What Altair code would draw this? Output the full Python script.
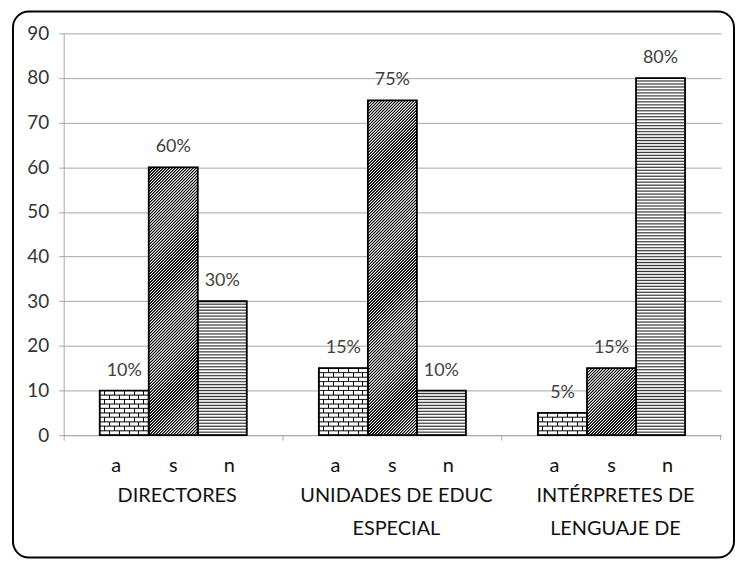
import math
import altair as alt
import pandas as pd

# ---- data ----
groups = ["DIRECTORES", "UNIDADES DE EDUC ESPECIAL", "INTÉRPRETES DE LENGUAJE DE"]
group_text = ["DIRECTORES", "UNIDADES DE EDUC\nESPECIAL", "INTÉRPRETES DE\nLENGUAJE DE"]
series = ["a", "s", "n"]
a_values = [10, 15, 5]
s_values = [60, 75, 15]
n_values = [30, 10, 80]
y_ticks = [0, 10, 20, 30, 40, 50, 60, 70, 80, 90]

rows = []
for i, g in enumerate(groups):
    for s, vals in zip(series, [a_values, s_values, n_values]):
        rows.append({"group": g, "series": s, "value": vals[i]})
df = pd.DataFrame(rows)
df_g = pd.DataFrame({"group": groups, "text": group_text})

# ---- geometry / style ----
W, H = 661, 404
YMAX = 90
PX = H / YMAX
OUTER = 0.735
BAR_W = W / 3 / (3 + 2 * OUTER)
FONT = "Lato"
GRAY = "#a6a6a6"
EPS = 0.1          # overlap of pattern segments (in value units)
P = 2 * PX / 3     # stripe period in px

# pattern segments derived from the values (texture only)
seg_rows = []
for r in rows:
    v = r["value"]
    if r["series"] == "a":
        for k in range(v):
            seg_rows.append({**r, "lo": k, "hi": k + 1, "kind": "odd" if k % 2 else "even"})
    else:
        for k in range(0, v, 2):
            hi = min(k + 2, v)
            seg_rows.append({**r, "lo": k, "hi": hi, "kind": "full" if hi - k == 2 else "half"})
df_seg = pd.DataFrame(seg_rows)


def mix(d, dark, light):
    c = [round(l + d * (k - l)) for k, l in zip(dark, light)]
    return "#%02x%02x%02x" % tuple(c)


def wave_gradient(L, ref, shape, dark, light, coords):
    def f(u):
        ph = ((u - ref) % P) / P
        for (p0, d0), (p1, d1) in zip(shape[:-1], shape[1:]):
            if p0 <= ph <= p1:
                return d0 if p1 == p0 else d0 + (d1 - d0) * (ph - p0) / (p1 - p0)
        return shape[-1][1]
    pos = {0.0, L}
    k = math.floor((0 - ref) / P) - 1
    while ref + k * P < L + P:
        for p, _ in shape:
            u = ref + (k + p) * P
            if 0 < u < L:
                pos.add(u)
        k += 1
    stops = [{"offset": u / L, "color": mix(f(u), dark, light)} for u in sorted(pos)]
    x1, y1, x2, y2 = coords
    return {"gradient": "linear", "x1": x1, "y1": y1, "x2": x2, "y2": y2, "stops": stops}


S_SHAPE = [(0.0, 1.0), (0.3, 1.0), (0.55, 0.0), (0.75, 0.0), (1.0, 1.0)]
N_SHAPE = [(0.0, 1.0), (0.4, 0.0), (0.6, 0.0), (1.0, 1.0)]


def diag_fill(units):
    h = units * PX
    w = BAR_W
    r = h / w
    a = (1 + r) / (1 + r * r)
    return wave_gradient(w + h, h, S_SHAPE, (0, 0, 0), (255, 255, 255), (0, 0, a, a * r))


def horiz_fill(units):
    h = units * PX
    return wave_gradient(h, h, N_SHAPE, (50, 50, 50), (255, 255, 255), (0, 0, 0, 1))


def joint_fill(offset):
    w = BAR_W
    bw = w / 5
    stops = [{"offset": 0, "color": "#ffffff"}]
    x = offset * bw
    while x < w - 0.5:
        if x > 0.5:
            stops += [{"offset": (x - 0.5) / w, "color": "#ffffff"},
                      {"offset": (x - 0.5) / w, "color": "#000000"},
                      {"offset": (x + 0.5) / w, "color": "#000000"},
                      {"offset": (x + 0.5) / w, "color": "#ffffff"}]
        x += bw
    stops.append({"offset": 1, "color": "#ffffff"})
    return {"gradient": "linear", "x1": 0, "y1": 0, "x2": 1, "y2": 0, "stops": stops}


x_enc = alt.X("group:N", sort=groups, title=None,
              scale=alt.Scale(paddingInner=0, paddingOuter=0),
              axis=alt.Axis(labels=False, title=None, domainColor=GRAY, tickColor=GRAY,
                            tickSize=5, bandPosition=0, grid=False))
xo_enc = alt.XOffset("series:N", sort=series,
                     scale=alt.Scale(paddingInner=0, paddingOuter=OUTER))
y_scale = alt.Scale(domain=[0, YMAX], nice=False, zero=True)
y_enc = alt.Y("value:Q", title=None, scale=y_scale,
              axis=alt.Axis(values=y_ticks, grid=True, gridColor=GRAY, domainColor=GRAY,
                            tickColor=GRAY, tickSize=5, labelPadding=10, labelFontSize=19,
                            labelFont=FONT, labelColor="#333333", title=None))
y_lo = alt.Y("lo:Q", title=None, scale=y_scale)
y_hi = alt.Y2("top:Q")

layers = []

# outer rounded frame
frame = alt.Chart(pd.DataFrame({"k": [0]})).mark_rect(
    fill="transparent", stroke="#000000", strokeWidth=2, cornerRadius=16
).encode(x=alt.value(-51), x2=alt.value(674), y=alt.value(-22), y2=alt.value(527))
layers.append(frame)

# closing tick at the right end of the category axis
layers.append(alt.Chart(pd.DataFrame({"k": [0]})).mark_rule(
    color=GRAY, strokeWidth=1
).encode(x=alt.value(W - 0.5), y=alt.value(H), y2=alt.value(H + 5)))

seg = alt.Chart(df_seg)

# white base for the bars
layers.append(alt.Chart(df).mark_bar(fill="#ffffff", strokeWidth=0).encode(
    x=x_enc, xOffset=xo_enc, y=y_enc))

# brick texture (series a)
for kind, off in [("even", 1.0), ("odd", 0.5)]:
    layers.append(seg.transform_filter(
        (alt.datum.series == "a") & (alt.datum.kind == kind)
    ).transform_calculate(top="datum.hi").mark_bar(
        fill=joint_fill(off), stroke="#000000", strokeWidth=0.8
    ).encode(x=x_enc, xOffset=xo_enc, y=y_lo, y2=y_hi))

# diagonal hatch (series s)
for kind, units in [("full", 2), ("half", 1)]:
    layers.append(seg.transform_filter(
        (alt.datum.series == "s") & (alt.datum.kind == kind)
    ).transform_calculate(top=f"datum.hi + {EPS}").mark_bar(
        fill=diag_fill(units + EPS), strokeWidth=0
    ).encode(x=x_enc, xOffset=xo_enc, y=y_lo, y2=y_hi))

# wave-like lines (series n)
for kind, units in [("full", 2), ("half", 1)]:
    layers.append(seg.transform_filter(
        (alt.datum.series == "n") & (alt.datum.kind == kind)
    ).transform_calculate(top=f"datum.hi + {EPS}").mark_bar(
        fill=horiz_fill(units + EPS), strokeWidth=0
    ).encode(x=x_enc, xOffset=xo_enc, y=y_lo, y2=y_hi))

# bar outlines
layers.append(alt.Chart(df).mark_bar(
    fill="transparent", stroke="#000000", strokeWidth=1.8
).encode(x=x_enc, xOffset=xo_enc, y=y_enc))

# percentage labels
layers.append(alt.Chart(df).transform_calculate(label="datum.value + '%'").mark_text(
    dy=-20, baseline="middle", align="center", fontSize=18, font=FONT, color="#404040"
).encode(x=x_enc, xOffset=xo_enc, y=y_enc, text="label:N"))

# series letters under the axis
for s, shift in zip(series, [-8, 0, 7]):
    layers.append(alt.Chart(df).transform_filter(alt.datum.series == s).mark_text(
        baseline="middle", align="center", fontSize=20, font=FONT, color="#111111", dx=shift
    ).encode(x=x_enc, xOffset=xo_enc, y=alt.value(H + 31), text="series:N"))

# group names
layers.append(alt.Chart(df_g).mark_text(
    baseline="top", align="center", fontSize=20, font=FONT, color="#111111",
    lineBreak="\n", lineHeight=33, dx=4
).encode(x=x_enc, y=alt.value(H + 51), text="text:N"))

chart = alt.layer(*layers).properties(
    width=W, height=H,
    padding={"left": 56, "top": 24, "right": 14, "bottom": 124},
    autosize=alt.AutoSizeParams(type="none"),
    background="#ffffff",
).configure_view(stroke=None)

chart.save("out.html", embed_options={"renderer": "svg", "actions": False})
